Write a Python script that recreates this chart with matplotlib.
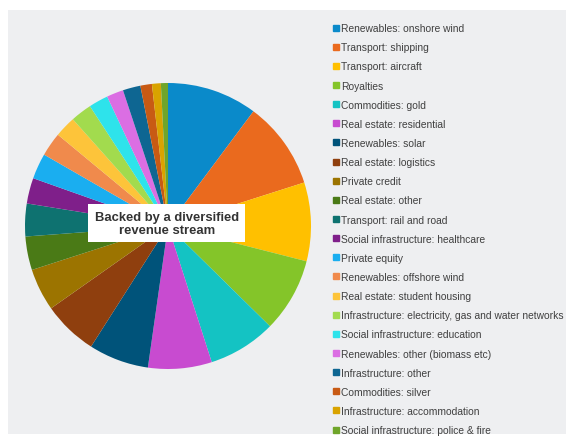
import matplotlib.pyplot as plt
from matplotlib.patches import Rectangle
from matplotlib.lines import Line2D

plt.rcParams['font.family'] = ['Liberation Sans', 'DejaVu Sans']

# share of revenue by asset type (%)
categories = [
    "Renewables: onshore wind", "Transport: shipping", "Transport: aircraft",
    "Royalties", "Commodities: gold", "Real estate: residential",
    "Renewables: solar", "Real estate: logistics", "Private credit",
    "Real estate: other", "Transport: rail and road",
    "Social infrastructure: healthcare", "Private equity",
    "Renewables: offshore wind", "Real estate: student housing",
    "Infrastructure: electricity, gas and water networks",
    "Social infrastructure: education", "Renewables: other (biomass etc)",
    "Infrastructure: other", "Commodities: silver",
    "Infrastructure: accommodation", "Social infrastructure: police & fire",
]
shares = [10.2, 9.9, 8.9, 8.4, 7.7, 7.2, 6.8, 6.2, 4.8, 3.8, 3.7,
          2.9, 2.9, 2.7, 2.4, 2.4, 2.2, 1.9, 2.0, 1.3, 1.0, 0.8]
colors = ["#0A8ACA", "#EA6A1E", "#FFC000", "#84C529", "#14C3C3", "#C84BD0",
          "#00537A", "#8F3F0E", "#9C7400", "#4A7A16", "#0E7270", "#7F1F8A",
          "#1AAEF0", "#F08A4C", "#FDC43A", "#A2DB4E", "#2EE3EB", "#DB6EE3",
          "#0E6692", "#C85A14", "#D9A300", "#6FA52A"]

W, H = 566, 439
fig = plt.figure(figsize=(W / 100, H / 100), dpi=100, facecolor="white")
# grey panel behind everything
fig.patches.append(Rectangle((8 / W, 4 / H), 1, (H - 15) / H, transform=fig.transFigure,
                             facecolor="#EEEFF1", edgecolor="none", zorder=-5))

cx, cy, r = 168, 227, 143
ax = fig.add_axes([(cx - r) / W, (H - cy - r) / H, 2 * r / W, 2 * r / H])
ax.set_zorder(2)
ax.pie(shares, colors=colors, startangle=90, counterclock=False,
       wedgeprops=dict(linewidth=0))
ax.set_xlim(-1, 1)
ax.set_ylim(-1, 1)
ax.set_aspect("equal")

ax.text(-0.01, 0.02, "Backed by a diversified\nrevenue stream", ha="center", va="center",
        fontsize=9.4, fontweight="bold", color="#333333", linespacing=1.1,
        bbox=dict(boxstyle="square,pad=0.5", facecolor="white", edgecolor="none"))

handles = [Line2D([], [], marker="s", linestyle="none", markersize=4.3,
                  markerfacecolor=c, markeredgecolor=c) for c in colors]
fig.legend(handles, categories, loc="upper left", bbox_to_anchor=(329 / W, (H - 20) / H),
           frameon=False, fontsize=7.4, labelcolor="#404040", handlelength=0.5,
           handletextpad=0.25, labelspacing=0.89, borderaxespad=0)

fig.savefig("out.png", dpi=100)
